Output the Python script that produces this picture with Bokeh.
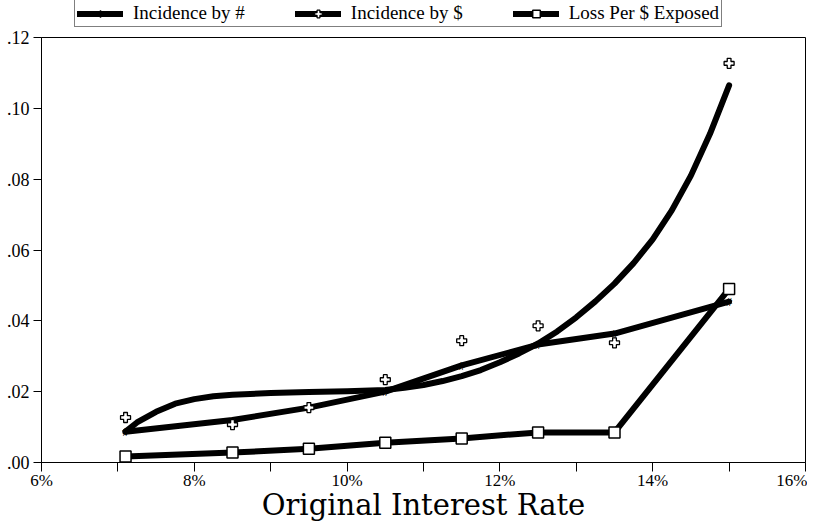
from bokeh.plotting import figure
from bokeh.layouts import column
from bokeh.models import Legend, LegendItem, Range1d, FixedTicker, CustomJSTickFormatter
from bokeh.embed import file_html
from bokeh.resources import INLINE
from bokeh.core.properties import value

# ---- data ----
rate = [7.1, 8.5, 9.5, 10.5, 11.5, 12.5, 13.5, 15.0]
inc_num = [0.0087, 0.0120, 0.0155, 0.0200, 0.0274, 0.0333, 0.0364, 0.0454]
inc_dollar = [0.0127, 0.0107, 0.0155, 0.0234, 0.0344, 0.0386, 0.0338, 0.1127]
loss_per_dollar = [0.0017, 0.0028, 0.0039, 0.0056, 0.0068, 0.0085, 0.0085, 0.0490]

# fitted curve drawn through the "Incidence by $" points
fit_rate = [7.1, 7.25, 7.5, 7.75, 8.0, 8.25, 8.5, 9.0, 9.5, 10.0, 10.5, 10.75, 11.0, 11.25, 11.5,
            11.75, 12.0, 12.25, 12.5, 12.75, 13.0, 13.25, 13.5, 13.75, 14.0, 14.25, 14.5, 14.75, 15.0]
fit_dollar = [0.0087, 0.0113, 0.0143, 0.0166, 0.0179, 0.0187, 0.0191, 0.0196, 0.0199, 0.0201,
              0.0205, 0.0211, 0.0219, 0.0230, 0.0244, 0.0261, 0.0283, 0.0308, 0.0336, 0.0370,
              0.0410, 0.0455, 0.0505, 0.0563, 0.0630, 0.0712, 0.0810, 0.0928, 0.1065]

series_labels = ["Incidence by #", "Incidence by $", "Loss Per $ Exposed"]

x_major = [6, 8, 10, 12, 14, 16]
x_minor = [7, 9, 11, 13, 15]
y_major = [0.00, 0.02, 0.04, 0.06, 0.08, 0.10, 0.12]

serif = "Liberation Serif"
lw = 6

p = figure(width=807, height=496, output_backend="svg", toolbar_location=None,
           x_range=Range1d(6, 16), y_range=Range1d(0, 0.12),
           min_border_left=41, min_border_right=2, min_border_top=9, min_border_bottom=0)

p.xgrid.visible = False
p.ygrid.visible = False
p.outline_line_color = "black"
p.outline_line_width = 1
p.background_fill_color = "white"

# axes
p.xaxis.ticker = FixedTicker(ticks=x_major, minor_ticks=x_minor)
p.xaxis.formatter = CustomJSTickFormatter(code="return tick.toFixed(0) + '%';")
p.yaxis.ticker = FixedTicker(ticks=y_major, minor_ticks=[])
p.yaxis.formatter = CustomJSTickFormatter(code="return tick.toFixed(2).slice(1);")

for ax in (p.xaxis[0], p.yaxis[0]):
    ax.axis_line_color = "black"
    ax.major_tick_line_color = "black"
    ax.minor_tick_line_color = "black"
    ax.major_tick_in = 0
    ax.minor_tick_in = 0
    ax.major_label_text_font = serif
    ax.major_label_text_color = "black"

p.xaxis.major_label_text_font_size = "17px"
p.yaxis.major_label_text_font_size = "18px"
p.xaxis.major_tick_out = 9
p.xaxis.minor_tick_out = 9
p.xaxis.major_label_standoff = -1
p.yaxis.major_tick_out = 8
p.yaxis.major_label_standoff = 4

p.xaxis.axis_label = "Original Interest Rate"
p.xaxis.axis_label_text_font = "DejaVu Serif"
p.xaxis.axis_label_text_font_size = "29px"
p.xaxis.axis_label_text_font_style = "normal"
p.xaxis.axis_label_text_color = "black"
p.xaxis.axis_label_standoff = -5

# lines
p.line(rate, inc_num, line_color="black", line_width=lw, line_cap="round", line_join="round")
p.line(fit_rate, fit_dollar, line_color="black", line_width=lw, line_cap="round", line_join="round")
p.line(rate, loss_per_dollar, line_color="black", line_width=lw, line_cap="round", line_join="round")

# markers
p.text(x=rate, y=inc_num, text=["#"] * len(rate), text_align="center", text_baseline="middle",
       text_font=value(serif), text_font_size="13px", text_color="black")
p.scatter(rate, inc_dollar, marker="plus", size=10, fill_color="white",
          line_color="black", line_width=1.3)
p.scatter(rate, loss_per_dollar, marker="square", size=11, fill_color="white",
          line_color="black", line_width=1.5)

# ---- legend strip above the chart (keys only, no data drawn) ----
lg = figure(width=807, height=28, output_backend="svg", toolbar_location=None,
            x_range=Range1d(0, 1), y_range=Range1d(0, 1),
            x_axis_location=None, y_axis_location=None,
            min_border_left=0, min_border_right=0, min_border_top=0, min_border_bottom=0)
lg.xgrid.visible = False
lg.ygrid.visible = False
lg.outline_line_color = None

nan = [float("nan")]
k1_line = lg.line(nan, nan, line_color="black", line_width=lw, line_cap="round")
k1_mark = lg.scatter(nan, nan, marker="cross", size=10, line_color="black", line_width=1.5)
k2_line = lg.line(nan, nan, line_color="black", line_width=lw, line_cap="round")
k2_mark = lg.scatter(nan, nan, marker="plus", size=10, fill_color="white", line_color="black", line_width=1.3)
k3_line = lg.line(nan, nan, line_color="black", line_width=lw, line_cap="round")
k3_mark = lg.scatter(nan, nan, marker="square", size=11, fill_color="white", line_color="black", line_width=1.5)

legend = Legend(items=[
    LegendItem(label=series_labels[0], renderers=[k1_line, k1_mark]),
    LegendItem(label=series_labels[1], renderers=[k2_line, k2_mark]),
    LegendItem(label=series_labels[2], renderers=[k3_line, k3_mark]),
], orientation="horizontal", location=(33, 1))
legend.label_text_font = serif
legend.label_text_font_size = "19px"
legend.label_text_color = "black"
legend.glyph_width = 46
legend.glyph_height = 19
legend.label_height = 19
legend.label_standoff = 10
legend.spacing = 50
legend.padding = 2
legend.margin = 0
legend.border_line_color = "black"
legend.border_line_width = 1
legend.background_fill_color = "white"
legend.background_fill_alpha = 1
lg.add_layout(legend, "center")

layout = column(lg, p, spacing=0)
open("out.html", "w").write(file_html(layout, INLINE))
